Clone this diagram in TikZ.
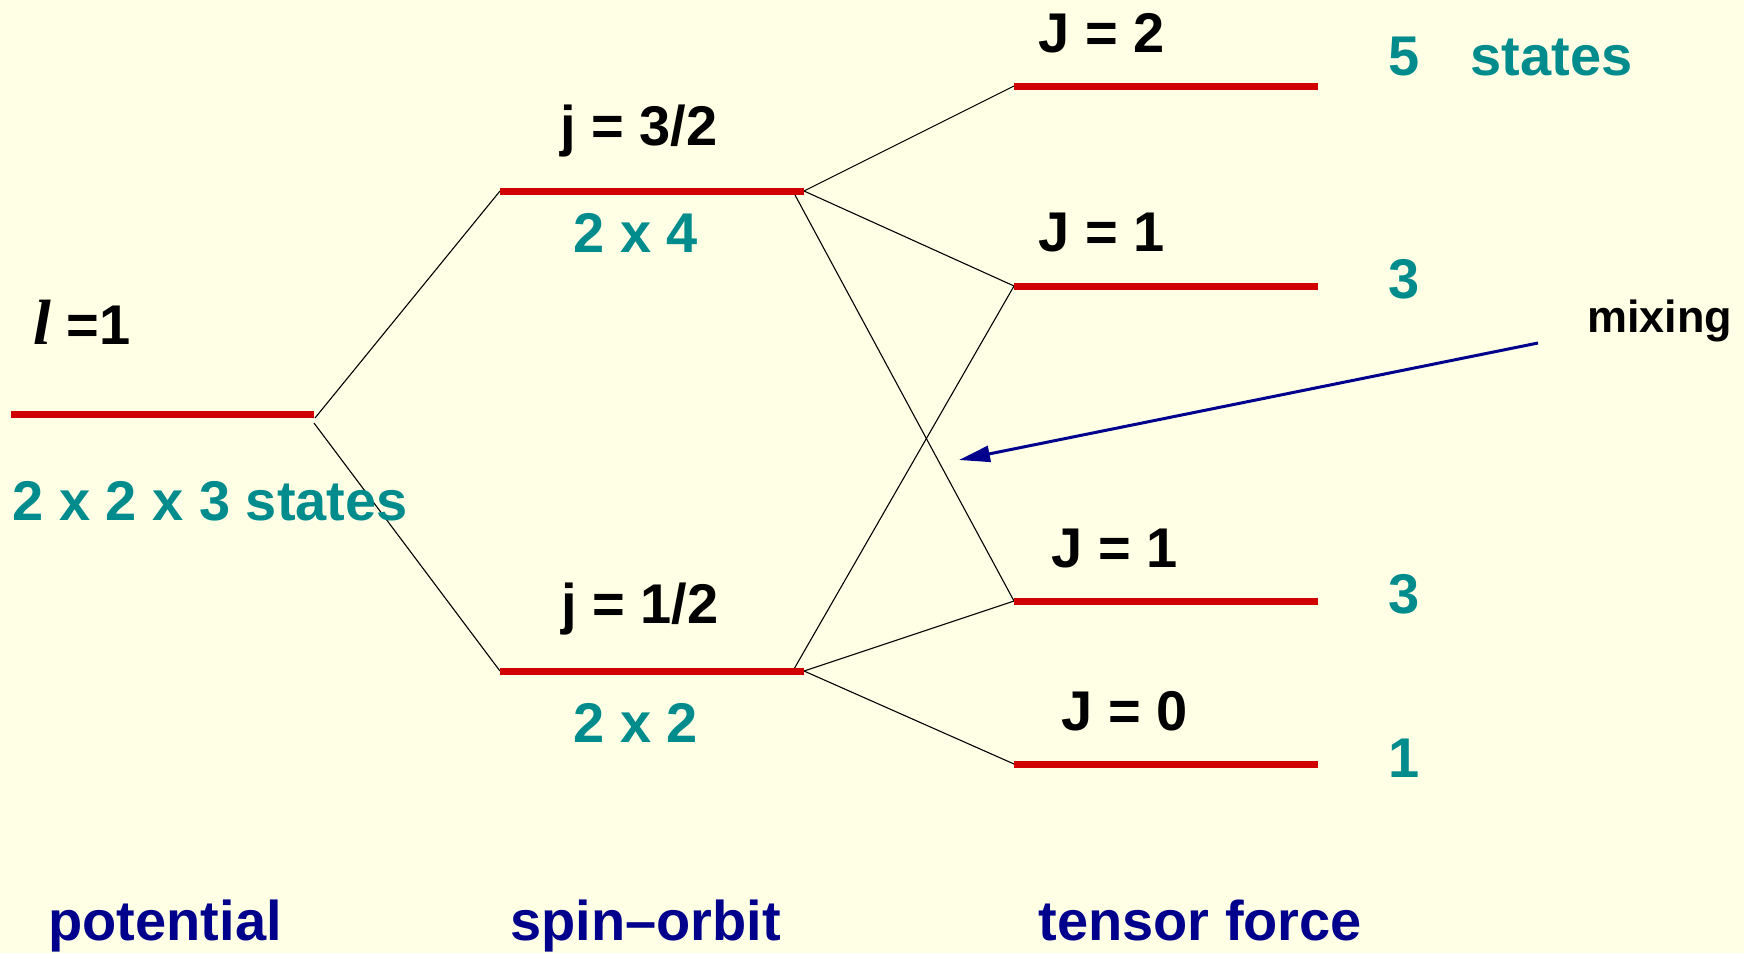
\documentclass[tikz,border=0pt]{standalone}
\usepackage{fontspec}
\setmainfont{Liberation Sans}
\newfontfamily\serifbi[BoldItalicFont={Liberation Serif Bold Italic}]{Liberation Serif}
\usetikzlibrary{arrows.meta}
\definecolor{bgc}{RGB}{255,255,230}
\definecolor{lvlred}{RGB}{208,0,0}
\definecolor{tealc}{RGB}{0,140,140}
\definecolor{navyc}{RGB}{0,0,140}
\tikzset{
  lvl/.style={draw=lvlred, line width=3.5pt},
  conn/.style={draw=black, line width=0.55pt},
  lab/.style={anchor=base west, inner sep=0pt, font=\fontsize{28}{30}\selectfont\bfseries, text=black},
  cnt/.style={lab, text=tealc},
  ttl/.style={lab, text=navyc},
  mixarrow/.style={draw=navyc, line width=1.5pt, -{Triangle[length=15.5pt,width=8pt]}}
}
\begin{document}
\begin{tikzpicture}[x=0.5pt,y=-0.5pt]
\fill[bgc] (0,0) rectangle (1744,953);
\useasboundingbox (0,0) rectangle (1744,953);
% level end points
\coordinate (pL) at (11,414);   \coordinate (pR) at (314,414);
\coordinate (aL) at (500,191);  \coordinate (aR) at (804,191);
\coordinate (bL) at (500,671);  \coordinate (bR) at (804,671);
\coordinate (aS) at (795,195);  \coordinate (bS) at (794,669);
\coordinate (c2L) at (1014,86);  \coordinate (c2R) at (1318,86);
\coordinate (c1L) at (1014,286); \coordinate (c1R) at (1318,286);
\coordinate (d1L) at (1014,601); \coordinate (d1R) at (1318,601);
\coordinate (d0L) at (1014,764); \coordinate (d0R) at (1318,764);
\coordinate (pC1) at (315,418); \coordinate (pC2) at (314,423);
% connectors
\draw[conn] (pC1) -- (aL);
\draw[conn] (pC2) -- (bL);
\draw[conn] (aR) -- (c2L);
\draw[conn] (aR) -- (c1L);
\draw[conn] (aS) -- (d1L);
\draw[conn] (bS) -- (c1L);
\draw[conn] (bR) -- (d1L);
\draw[conn] (bR) -- (d0L);
% levels
\draw[lvl] (pL) -- (pR);
\draw[lvl] (aL) -- (aR);
\draw[lvl] (bL) -- (bR);
\draw[lvl] (c2L) -- (c2R);
\draw[lvl] (c1L) -- (c1R);
\draw[lvl] (d1L) -- (d1R);
\draw[lvl] (d0L) -- (d0R);
% labels
\node[lab] (tl) at (33,344) {{\fontsize{32}{34}\selectfont\serifbi\bfseries\itshape l} =1};
\node[cnt] (tp) at (12,520) {2 x 2 x 3 states};
\node[lab] (ta) at (560,145) {j = 3/2};
\node[cnt] (na) at (573,252) {2 x 4};
\node[lab] (tb) at (561,623) {j = 1/2};
\node[cnt] (nb) at (573,742) {2 x 2};
\node[lab] (t2) at (1038,52) {J = 2};
\node[cnt] (n2) at (1388,75) {5\hspace{25.5pt}states};
\node[lab] (t1) at (1038,251) {J = 1};
\node[cnt] (n1) at (1388,298) {3};
\node[lab] (t1b) at (1051,567) {J = 1};
\node[cnt] (n1b) at (1388,613) {3};
\node[lab] (t0) at (1061,730) {J = 0};
\node[cnt] (n0) at (1388,777) {1};
\node[lab, font=\fontsize{22.5}{24}\selectfont\bfseries] (mix) at (1587,332) {mixing};
\coordinate (mixA) at (1538,343);
\coordinate (mixB) at (959,460);
\draw[mixarrow] (mixA) -- (mixB);
\node[ttl] (tt1) at (48,940) {potential};
\node[ttl] (tt2) at (510,940) {spin–orbit};
\node[ttl] (tt3) at (1038,940) {tensor force};
\end{tikzpicture}
\end{document}
